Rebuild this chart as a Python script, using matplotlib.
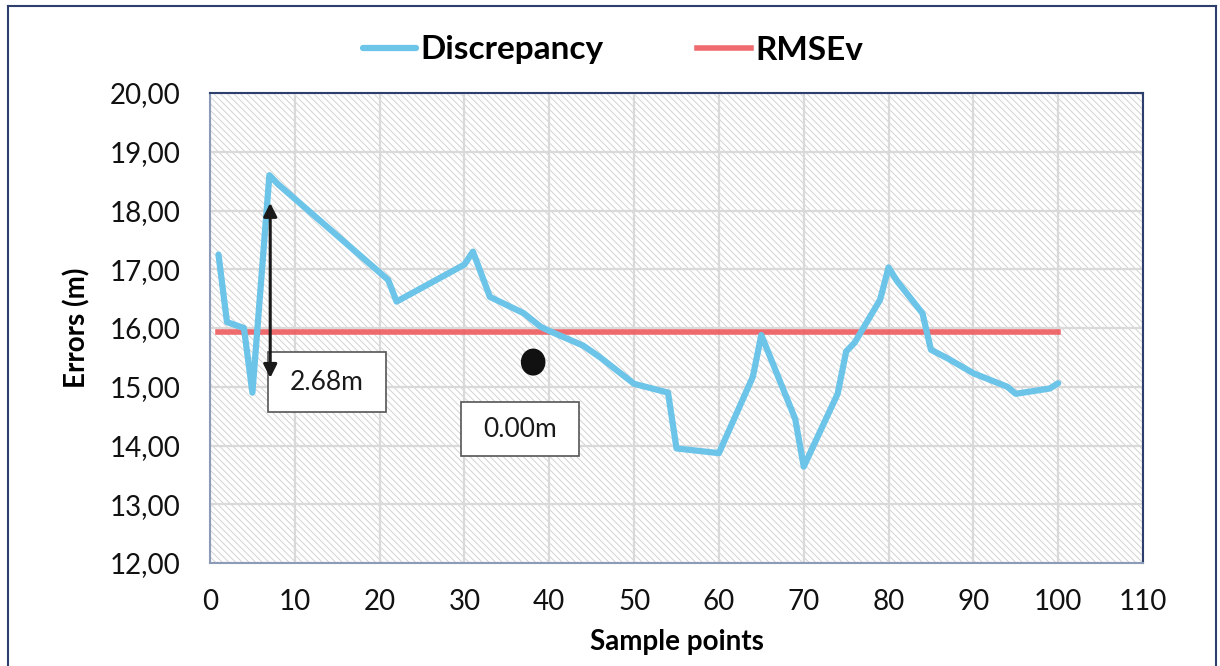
import matplotlib
matplotlib.use("Agg")
import matplotlib.pyplot as plt
from matplotlib.patches import Rectangle, Ellipse
from matplotlib.lines import Line2D
from matplotlib.ticker import FuncFormatter

# ---- data ----
disc_x = [1, 2, 4, 5, 7, 8, 21, 22, 30, 31, 33, 37, 39, 40, 44, 46, 50, 54, 55, 60,
          64, 65, 69, 70, 74, 75, 76, 79, 80, 81, 84, 85, 87, 90, 94, 95, 99, 100]
disc_y = [17.25, 16.10, 16.00, 14.90, 18.60, 18.45, 16.82, 16.45, 17.08, 17.30, 16.53, 16.25, 16.02, 15.95, 15.70,
          15.50, 15.05, 14.90, 13.95, 13.87,
          15.17, 15.88, 14.45, 13.64, 14.88, 15.60, 15.75, 16.48, 17.03, 16.80, 16.25, 15.63, 15.48, 15.23, 15.00, 14.88, 14.97, 15.06]
rmse_x = [1, 100]
rmse_y = [15.93, 15.93]

arrow_x = 7.1
arrow_y = [18.13, 15.15]
dot_xy = (38.1, 15.42)
label_a = "2.68m"
label_b = "0.00m"
box_a = (6.85, 14.57, 13.9, 1.02)   # x, y, width, height in data units
box_b = (29.63, 13.82, 13.9, 0.92)

xticks = list(range(0, 111, 10))
yticks = [12, 13, 14, 15, 16, 17, 18, 19, 20]

BLUE = "#6CC5E9"
RED = "#EE5B5E"

plt.rcParams['font.family'] = ['Lato', 'DejaVu Sans']

fig = plt.figure(figsize=(12.2, 6.66), dpi=100)
ax = fig.add_axes([210/1220, 1-563/666, (1143-210)/1220, (563-93)/666])

ax.set_xlim(0, 110)
ax.set_ylim(12, 20)

# hatched background
plt.rcParams['hatch.linewidth'] = 0.7
bg = Rectangle((0, 0), 1, 1, transform=ax.transAxes, facecolor="white",
               edgecolor="#d2d2d2", hatch="\\\\\\\\\\", linewidth=0, zorder=0)
ax.add_patch(bg)
ax.set_facecolor("white")

ax.set_xticks(xticks)
ax.set_yticks(yticks)
ax.grid(True, color="#d9d9d9", linewidth=1.6, zorder=1)
ax.set_axisbelow(True)
ax.yaxis.set_major_formatter(FuncFormatter(lambda v, p: f"{v:.2f}".replace(".", ",")))
ax.tick_params(length=0, labelsize=20, colors="#111111")
ax.tick_params(axis='x', pad=19)
ax.tick_params(axis='y', pad=21)

for s in ['top', 'right']:
    ax.spines[s].set_color("#2E3F6E")
    ax.spines[s].set_linewidth(1.5)
for s in ['left', 'bottom']:
    ax.spines[s].set_color("#8C9CB8")
    ax.spines[s].set_linewidth(1.5)

l1, = ax.plot(disc_x, disc_y, color=BLUE, linewidth=4.5, solid_joinstyle='round',
              solid_capstyle='round', zorder=3, label="Discrepancy")
l2, = ax.plot(rmse_x, rmse_y, color=RED, linewidth=4, alpha=0.9, zorder=2, label="RMSEv")

ax.annotate("", xy=(arrow_x, arrow_y[0]), xytext=(arrow_x, arrow_y[1]),
            arrowprops=dict(arrowstyle="<|-|>", color="#1a1a1a", lw=2.2,
                            mutation_scale=20, shrinkA=0, shrinkB=0), zorder=6)

ax.add_patch(Ellipse(dot_xy, width=2.9, height=0.46, facecolor="#111111",
                     edgecolor="none", zorder=6))

for (bx, by, bw, bh), lab in [(box_a, label_a), (box_b, label_b)]:
    ax.add_patch(Rectangle((bx, by), bw, bh, facecolor="white", edgecolor="#555555",
                           linewidth=1.2, zorder=5))
    ax.text(bx + bw / 2, by + bh / 2, lab, fontsize=19, ha="center", va="center",
            color="#1a1a1a", zorder=5.5)

ax.set_xlabel("Sample points", fontsize=20, fontweight="bold", labelpad=10)
ax.set_ylabel("Errors (m)", fontsize=20, fontweight="bold", labelpad=14)

fig.legend(handles=[l1, l2], loc="center", bbox_to_anchor=(613/1220, 1-50/666), ncol=2,
           frameon=False, prop=dict(size=24, weight="bold"), handlelength=1.6,
           handletextpad=0.15, columnspacing=2.8)

# figure border
for xs, ys in [([8/1220, 8/1220], [0, 1-6/666]), ([8/1220, 1216/1220], [1-6/666, 1-6/666]),
               ([1216/1220, 1216/1220], [0, 1-6/666])]:
    fig.add_artist(Line2D(xs, ys, color="#2E3F6E", linewidth=1.5, transform=fig.transFigure))

fig.savefig("out.png", dpi=100)
